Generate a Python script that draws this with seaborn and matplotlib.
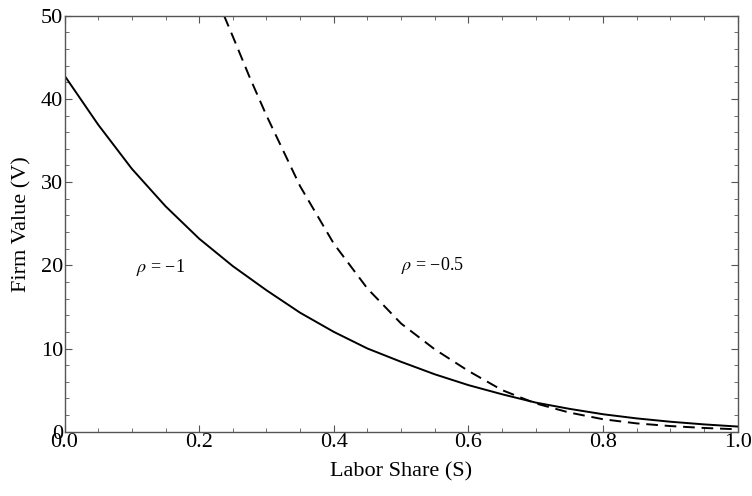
import matplotlib
matplotlib.use("Agg")
import matplotlib.pyplot as plt
import pandas as pd
import seaborn as sns
from matplotlib.ticker import FormatStrFormatter, MultipleLocator

# labor share grid and firm values
share_solid = [0.0, 0.05, 0.1, 0.15, 0.2, 0.25, 0.3, 0.35, 0.4, 0.45, 0.5,
               0.55, 0.6, 0.65, 0.7, 0.75, 0.8, 0.85, 0.9, 0.95, 1.0]
value_rho_m1 = [42.8, 36.9, 31.6, 27.1, 23.2, 19.9, 17.0, 14.3, 12.0, 10.0, 8.4,
                6.9, 5.6, 4.5, 3.5, 2.75, 2.1, 1.6, 1.2, 0.88, 0.62]

share_dashed = [0.237, 0.25, 0.275, 0.3, 0.35, 0.4, 0.45, 0.5, 0.55, 0.6,
                0.65, 0.7, 0.75, 0.8, 0.85, 0.9, 0.95, 1.0]
value_rho_m05 = [50.0, 47.5, 42.6, 38.0, 29.5, 22.6, 17.2, 13.0, 9.9, 7.3,
                 5.0, 3.4, 2.3, 1.5, 1.0, 0.68, 0.45, 0.29]

labels = ["$\\rho$ = \u22121", "$\\rho$ = \u22120.5"]
label_pos = [(0.142, 19.7), (0.547, 20.0)]

sns.set_theme(style="ticks")
plt.rcParams["font.family"] = ["Liberation Serif", "DejaVu Serif"]
plt.rcParams["mathtext.fontset"] = "stix"

df_solid = pd.DataFrame({"S": share_solid, "V": value_rho_m1})
df_dash = pd.DataFrame({"S": share_dashed, "V": value_rho_m05})

fig = plt.figure(figsize=(7.52, 4.96), dpi=100)
ax = fig.add_axes([0.0858, 0.1296, 0.8952, 0.8388])

sns.lineplot(data=df_solid, x="S", y="V", ax=ax, color="black", lw=1.4)
sns.lineplot(data=df_dash, x="S", y="V", ax=ax, color="black", lw=1.4)
ax.lines[-1].set_dashes((6, 3.5))

for text, (x, y) in zip(labels, label_pos):
    ax.text(x, y, text, ha="center", va="center", fontsize=13, color="black")

ax.set_xlim(0, 1)
ax.set_ylim(0, 50)
ax.xaxis.set_major_locator(MultipleLocator(0.2))
ax.xaxis.set_minor_locator(MultipleLocator(0.05))
ax.yaxis.set_major_locator(MultipleLocator(10))
ax.yaxis.set_minor_locator(MultipleLocator(2))
ax.xaxis.set_major_formatter(FormatStrFormatter("%.1f"))

ax.tick_params(which="both", direction="in", top=True, right=True,
               color="#555555", labelsize=16, labelcolor="black")
ax.tick_params(which="major", length=5, width=0.8, pad=1)
ax.tick_params(which="minor", length=3, width=0.6)
for spine in ax.spines.values():
    spine.set_visible(True)
    spine.set_color("#555555")
    spine.set_linewidth(1.0)

ax.set_xlabel("Labor Share (S)", fontsize=16, color="black", labelpad=7)
ax.set_ylabel("Firm Value (V)", fontsize=16, color="black", labelpad=7)

fig.savefig("out.png", dpi=100)
